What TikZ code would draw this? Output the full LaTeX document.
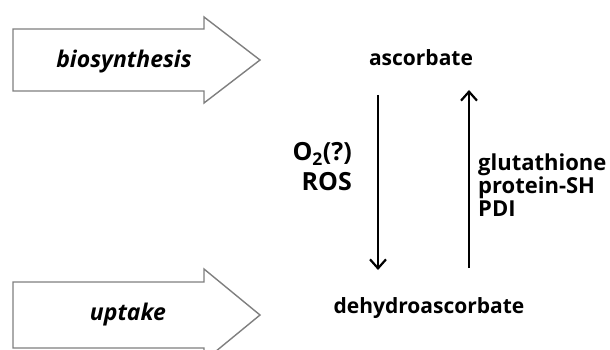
\documentclass[tikz,border=0pt]{standalone}
\usepackage{fontspec}
\setmainfont{Open Sans}
\usetikzlibrary{arrows.meta}
\definecolor{outl}{HTML}{7F7F7F}
\tikzset{
  bigarrow/.style={draw=outl, line width=1.4pt, fill=white, line join=miter},
  arrowtext/.style={font=\fontsize{23}{26}\selectfont\bfseries\itshape},
  species/.style={font=\fontsize{21}{24}\selectfont\bfseries, inner sep=0pt},
  lab/.style={font=\fontsize{22}{23}\selectfont\bfseries, inner sep=0pt},
  oxlab/.style={font=\fontsize{25}{30}\selectfont\bfseries, inner sep=0pt},
  conv/.style={line width=2.4pt, -{Straight Barb[length=9pt,width=16pt,line width=2.2pt]}},
}
\begin{document}
\begin{tikzpicture}[x=1pt,y=-1pt]
\useasboundingbox (0,0) rectangle (610,350);
% big input arrows
\draw[bigarrow] (13,29) -- (204,29) -- (204,17) -- (260,60) -- (204,103) -- (204,91) -- (13,91) -- cycle;
\node[arrowtext] (bio) at (124,62) {biosynthesis};
\draw[bigarrow] (13,282) -- (204,282) -- (204,269) -- (260,315) -- (204,361) -- (204,348) -- (13,348) -- cycle;
\node[arrowtext] (upt) at (128,315) {uptake};
% species
\node[species] (asc) at (421,58) {ascorbate};
\node[species] (dha) at (429,308) {dehydroascorbate};
% conversion arrows
\coordinate (d1) at (378,95);
\coordinate (d2) at (378,270);
\coordinate (u1) at (469,268);
\coordinate (u2) at (469,90);
\draw[conv] (d1) -- (d2);
\draw[conv] (u1) -- (u2);
% labels
\node[oxlab, anchor=east, align=right] (ox) at (352,167) {O$_\mathbf{2}$(?)\\ROS};
\node[lab, anchor=west, align=left] (red) at (478,185) {glutathione\\protein-SH\\PDI};
\end{tikzpicture}
\end{document}
